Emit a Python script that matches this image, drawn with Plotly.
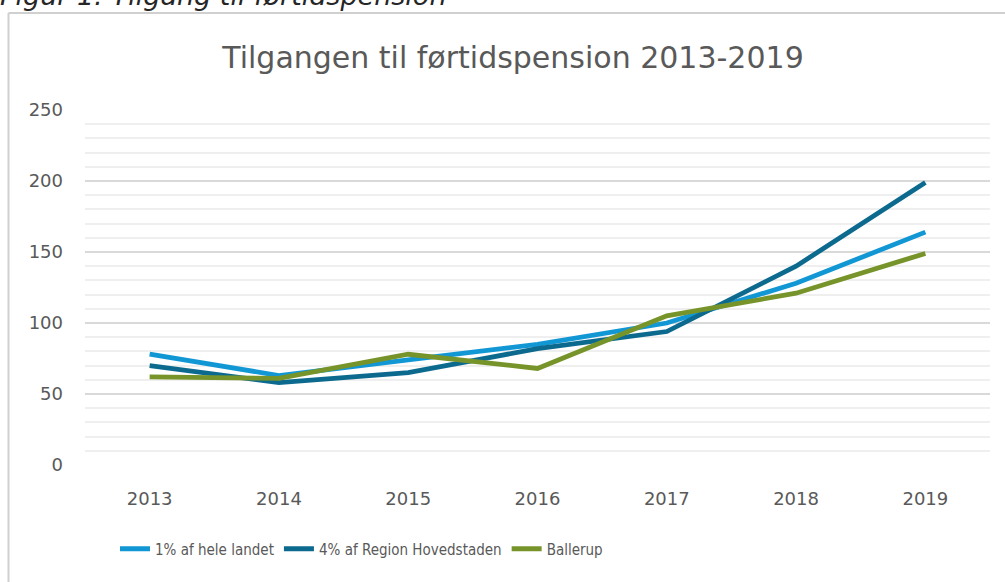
import plotly.graph_objects as go

years = ["2013", "2014", "2015", "2016", "2017", "2018", "2019"]
landet = [78, 63, 74, 85, 100, 128, 164]
hovedstaden = [70, 58, 65, 82, 94, 140, 199]
ballerup = [62, 61, 78, 68, 105, 121, 149]

names = ["1% af hele landet", "4% af Region Hovedstaden", "Ballerup"]
colors = ["#1297D5", "#0D6A8F", "#77942A"]
series = [landet, hovedstaden, ballerup]

W, H = 1005, 582
L, R, T, B = 85, 15, 110, 117
pw, ph = W - L - R, H - T - B

def px(x):
    return (x - L) / pw

def py(y):
    return (H - B - y) / ph

fig = go.Figure()
for n, c, s in zip(names, colors, series):
    fig.add_trace(go.Scatter(x=years, y=s, name=n, mode="lines",
                             line=dict(color=c, width=4.8), hoverinfo="x+y"))

fig.update_layout(
    width=W, height=H,
    margin=dict(l=L, r=R, t=T, b=B),
    paper_bgcolor="white", plot_bgcolor="white",
    font=dict(family="DejaVu Sans", color="#595959"),
    title=dict(text="Tilgangen til førtidspension 2013-2019", x=px(513), xanchor="center",
               xref="paper",
               y=1 - 57 / H, yanchor="middle", yref="container",
               font=dict(size=30, color="#595959", family="DejaVu Sans")),
    showlegend=True,
    legend=dict(orientation="h", x=px(115), xanchor="left", y=py(549), yanchor="middle",
                font=dict(size=15, color="#595959", family="DejaVu Sans Condensed"),
                itemwidth=30, traceorder="normal"),
    xaxis=dict(type="category", range=[-0.5, 6.5], showgrid=False, showline=False,
               ticks="", tickfont=dict(size=18, color="#595959"), ticklabelstandoff=21),
    yaxis=dict(range=[0, 250], dtick=50, tick0=0, showline=False, zeroline=False,
               gridcolor="#D9D9D9", gridwidth=1.5,
               tickfont=dict(size=18, color="#595959"), ticks="", ticklabelstandoff=21,
               minor=dict(dtick=10, showgrid=True, gridcolor="#EFEFEF", gridwidth=1.5)),
    shapes=[
        dict(type="line", xref="paper", yref="paper", x0=px(8.5), x1=px(1010), y0=py(13), y1=py(13),
             line=dict(color="#D0D0D0", width=2)),
        dict(type="line", xref="paper", yref="paper", x0=px(8.5), x1=px(8.5), y0=py(13), y1=py(590),
             line=dict(color="#D0D0D0", width=2)),
    ],
    annotations=[
        dict(text="<i>Figur 1: Tilgang til førtidspension</i>", xref="paper", yref="paper",
             x=px(-2), y=py(-5), xanchor="left", yanchor="middle", showarrow=False,
             font=dict(size=27, color="#262626", family="DejaVu Sans")),
    ],
)

fig.write_html("out.html", config={"displayModeBar": False},
               post_script="document.body.style.margin='0';document.body.style.overflow='hidden';")
